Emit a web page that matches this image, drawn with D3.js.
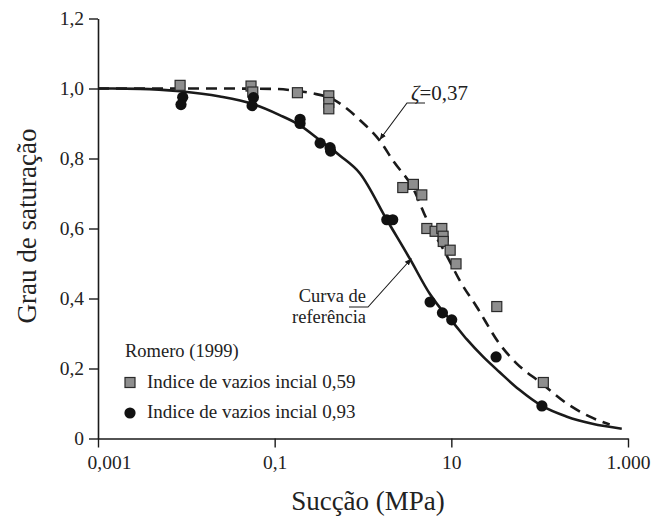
<!DOCTYPE html>
<html>
<head>
<meta charset="utf-8">
<script src="https://cdn.jsdelivr.net/npm/d3@7"></script>
<style>
  html, body { margin: 0; padding: 0; background: #fff; }
  svg { display: block; font-family: "Liberation Serif", "DejaVu Serif", serif; }
</style>
</head>
<body>
<svg id="chart" width="657" height="518"></svg>
<script>
// ---- data ----
const xTicks = [0.001, 0.1, 10, 1000];
const xTickLabels = ["0,001", "0,1", "10", "1.000"];
const yTicks = [0, 0.2, 0.4, 0.6, 0.8, 1.0, 1.2];
const yTickLabels = ["0", "0,2", "0,4", "0,6", "0,8", "1,0", "1,2"];

// Indice de vazios inicial 0,59 (squares)
const sqSuction = [0.0085, 0.054, 0.0565, 0.181, 0.41, 0.41, 0.41, 2.82, 3.72, 4.63, 5.28, 6.55, 7.8, 8.07, 8.1, 9.7, 11.3, 32.7, 110];
const sqSat     = [1.009, 1.007, 0.990, 0.988, 0.979, 0.960, 0.942, 0.717, 0.726, 0.696, 0.600, 0.592, 0.600, 0.578, 0.563, 0.538, 0.499, 0.377, 0.160];

// Indice de vazios inicial 0,93 (circles)
const ciSuction = [0.0091, 0.0087, 0.0574, 0.0555, 0.194, 0.194, 0.327, 0.424, 0.43, 1.86, 2.17, 5.75, 7.93, 10.1, 32.1, 106];
const ciSat     = [0.975, 0.954, 0.974, 0.951, 0.912, 0.900, 0.844, 0.831, 0.821, 0.625, 0.625, 0.390, 0.359, 0.339, 0.233, 0.093];

// Curva de referência (solid)
const refSuction = [0.001, 0.003, 0.0085, 0.024, 0.056, 0.114, 0.19, 0.325, 0.55, 0.92, 1.86, 3.4, 5.75, 8.1, 10.4, 15, 23, 35, 59, 106, 200, 395, 850];
const refSat     = [1.0, 0.999, 0.992, 0.977, 0.956, 0.924, 0.896, 0.852, 0.808, 0.758, 0.625, 0.513, 0.412, 0.362, 0.332, 0.283, 0.233, 0.190, 0.139, 0.093, 0.063, 0.042, 0.028];

// ζ = 0,37 (dashed)
const zetaSuction = [0.001, 0.017, 0.096, 0.179, 0.27, 0.46, 0.66, 0.92, 1.57, 2.2, 3.7, 5.3, 8.9, 12.6, 19.5, 35, 55, 101, 200, 365, 620];
const zetaSat     = [1.0, 1.0, 0.999, 0.993, 0.986, 0.969, 0.942, 0.910, 0.849, 0.793, 0.714, 0.625, 0.522, 0.449, 0.375, 0.271, 0.214, 0.161, 0.101, 0.063, 0.040];

// ---- drawing ----
const svg = d3.select("#chart");
const x = d3.scaleLog().domain([0.001, 1000]).range([98, 628]);
const y = d3.scaleLinear().domain([0, 1.2]).range([438.5, 18.5]);
const ink = "#1a1a1a";

svg.append("defs").append("marker")
  .attr("id", "arrow").attr("viewBox", "0 0 10 10")
  .attr("refX", 10).attr("refY", 5)
  .attr("markerWidth", 7).attr("markerHeight", 7)
  .attr("markerUnits", "userSpaceOnUse")
  .attr("orient", "auto")
  .append("path").attr("d", "M0,1 L10,5 L0,9 Z").attr("fill", ink);

// axes
const yAxis = d3.axisLeft(y).tickValues(yTicks)
  .tickFormat((d, i) => yTickLabels[i]).tickSizeInner(9).tickSizeOuter(0).tickPadding(5);
const gy = svg.append("g").attr("transform", "translate(98,0)").call(yAxis);

const xAxis = d3.axisBottom(x).tickValues(xTicks)
  .tickFormat((d, i) => xTickLabels[i]).tickSizeInner(9).tickSizeOuter(0).tickPadding(8);
const gx = svg.append("g").attr("transform", `translate(0,${y(0)})`).call(xAxis);

[gx, gy].forEach(g => {
  g.select(".domain").attr("stroke", ink).attr("stroke-width", 1.6);
  g.selectAll(".tick line").attr("stroke", ink).attr("stroke-width", 1.4);
  g.selectAll(".tick text").attr("fill", "#222").attr("font-size", 19.5)
    .attr("font-family", "Liberation Serif, serif");
});
gx.selectAll(".tick text").filter((d, i) => i === 0).attr("dx", 11);

// axis titles
svg.append("text")
  .attr("transform", "translate(36,226) rotate(-90)")
  .attr("text-anchor", "middle").attr("font-size", 27).attr("fill", "#222")
  .text("Grau de saturação");
svg.append("text")
  .attr("x", 368).attr("y", 510)
  .attr("text-anchor", "middle").attr("font-size", 27).attr("fill", "#222")
  .text("Sucção (MPa)");

// curves
const line = d3.line().x(d => x(d[0])).y(d => y(d[1])).curve(d3.curveMonotoneX);
svg.append("path")
  .attr("d", line(d3.zip(refSuction, refSat)))
  .attr("fill", "none").attr("stroke", ink).attr("stroke-width", 2.6);
svg.append("path")
  .attr("d", line(d3.zip(zetaSuction, zetaSat)))
  .attr("fill", "none").attr("stroke", ink).attr("stroke-width", 2.6)
  .attr("stroke-dasharray", "11,7");

// points
const sq = 10;
svg.append("g").selectAll("rect")
  .data(d3.zip(sqSuction, sqSat)).join("rect")
  .attr("x", d => x(d[0]) - sq / 2).attr("y", d => y(d[1]) - sq / 2)
  .attr("width", sq).attr("height", sq)
  .attr("fill", "#8e8e8e").attr("stroke", "#2a2a2a").attr("stroke-width", 1.2);
svg.append("g").selectAll("circle")
  .data(d3.zip(ciSuction, ciSat)).join("circle")
  .attr("cx", d => x(d[0])).attr("cy", d => y(d[1])).attr("r", 5.6)
  .attr("fill", "#111");

// annotations
svg.append("text").attr("x", 411).attr("y", 100).attr("font-size", 21).attr("fill", "#222")
  .html('<tspan font-style="italic">ζ</tspan>=0,37');
svg.append("polyline")
  .attr("points", "425,103 407,103 379.5,140")
  .attr("fill", "none").attr("stroke", ink).attr("stroke-width", 1.1)
  .attr("marker-end", "url(#arrow)");

svg.append("text").attr("x", 366).attr("y", 301.5).attr("text-anchor", "end")
  .attr("font-size", 18.5).attr("fill", "#222").text("Curva de");
svg.append("text").attr("x", 366).attr("y", 323).attr("text-anchor", "end")
  .attr("font-size", 18.5).attr("fill", "#222").text("referência");
svg.append("polyline")
  .attr("points", "349,307 368,307 411.5,258.5")
  .attr("fill", "none").attr("stroke", ink).attr("stroke-width", 1.1)
  .attr("marker-end", "url(#arrow)");

// legend
svg.append("text").attr("x", 125).attr("y", 357).attr("font-size", 18.5).attr("fill", "#222")
  .text("Romero (1999)");
svg.append("rect").attr("x", 125).attr("y", 377.5).attr("width", 10).attr("height", 10)
  .attr("fill", "#8e8e8e").attr("stroke", "#2a2a2a").attr("stroke-width", 1.2);
svg.append("text").attr("x", 147).attr("y", 388).attr("font-size", 19).attr("fill", "#222")
  .text("Indice de vazios incial 0,59");
svg.append("circle").attr("cx", 130).attr("cy", 413).attr("r", 5.6).attr("fill", "#111");
svg.append("text").attr("x", 147).attr("y", 418).attr("font-size", 19).attr("fill", "#222")
  .text("Indice de vazios incial 0,93");
</script>
</body>
</html>
